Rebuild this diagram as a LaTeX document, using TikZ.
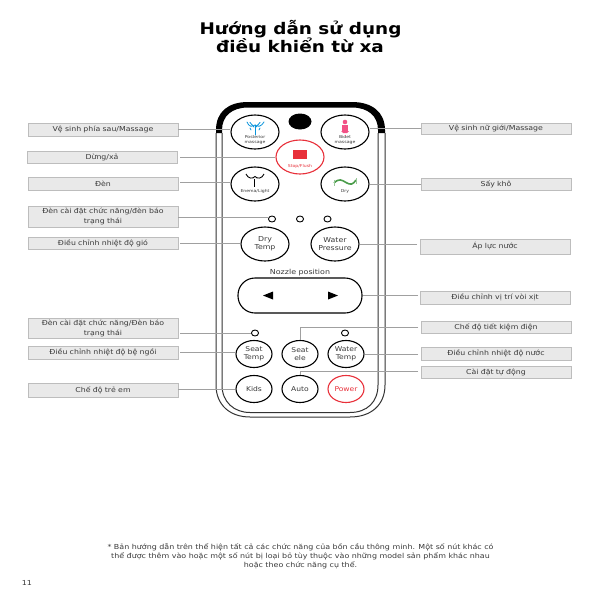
\documentclass[tikz,border=0pt]{standalone}
\usepackage{fontspec}
\setmainfont[FakeStretch=1.15]{DejaVu Sans}
\usetikzlibrary{shapes.geometric}
\definecolor{boxfill}{HTML}{E9E9E9}
\definecolor{boxline}{HTML}{BDBDBD}
\definecolor{connline}{HTML}{A0A0A0}
\definecolor{txt}{HTML}{3A3A3A}
\definecolor{redb}{HTML}{E8303A}
\tikzset{
 lab/.style={draw=boxline,fill=boxfill,line width=0.8pt,minimum width=150pt,inner sep=0pt,align=center,text=txt,font=\fontsize{6.8}{10}\selectfont,text width=146pt},
 conn/.style={draw=connline,line width=0.9pt},
 bigb/.style={ellipse,draw=black,line width=1.1pt,minimum width=48pt,minimum height=34pt,inner sep=0pt,align=center,fill=white,font=\fontsize{6.8}{8.4}\selectfont,text=txt},
 smallb/.style={ellipse,draw=black,line width=1.1pt,minimum width=36pt,minimum height=27pt,inner sep=0pt,align=center,fill=white,font=\fontsize{6.6}{7.8}\selectfont,text=txt},
 led/.style={ellipse,draw=black,line width=0.9pt,minimum width=7pt,minimum height=6pt,inner sep=0pt},
 tiny/.style={inner sep=0pt,align=center,text=txt,font=\fontsize{4}{4.4}\selectfont},
 foot/.style={inner sep=0pt,text=txt,font=\fontsize{6.9}{8}\selectfont},
}
\begin{document}
\begin{tikzpicture}[x=1pt,y=-1pt]
\useasboundingbox (0,0) rectangle (600,600);
\fill[white] (0,0) rectangle (600,600);
% title
\node[inner sep=0pt,font=\fontsize{16}{19}\bfseries\selectfont,text=black] (t1) at (300.5,29) {Hướng dẫn sử dụng};
\node[inner sep=0pt,font=\fontsize{16}{19}\bfseries\selectfont,text=black] (t2) at (300,45) {điều khiển từ xa};
% remote body
\draw[line width=1pt,draw=black!80] (216,133) -- (216,385) .. controls (216,405) and (230,417) .. (250,417) -- (350,417) .. controls (371,417) and (385,405) .. (385,385) -- (385,133);
\draw[line width=1pt,draw=black!80] (222,133) -- (222,385) .. controls (222,402) and (234,412.5) .. (250,412.5) -- (350,412.5) .. controls (367,412.5) and (378,402) .. (378,385) -- (378,133);
\fill[black] (216,133) -- (216,130) .. controls (216,112) and (228,102) .. (248,102) -- (352,102) .. controls (372,102) and (385,112) .. (385,130) -- (385,133) -- (378,133) -- (378,130) .. controls (378,116) and (368,107.5) .. (352,107.5) -- (248,107.5) .. controls (232,107.5) and (222,116) .. (222,130) -- (222,133) -- cycle;
% label boxes
\node[lab,minimum height=13pt] (L1) at (103,129.5) {Vệ sinh phía sau/Massage};
\node[lab,minimum height=12pt] (L2) at (102,157) {Dừng/xả};
\node[lab,minimum height=13pt] (L3) at (103,183.5) {Đèn};
\node[lab,minimum height=21pt] (L4) at (103,216.5) {Đèn cài đặt chức năng/đèn báo\\trạng thái};
\node[lab,minimum height=12pt] (L5) at (103,243) {Điều chỉnh nhiệt độ gió};
\node[lab,minimum height=20pt] (L6) at (103,328) {Đèn cài đặt chức năng/Đèn báo\\trạng thái};
\node[lab,minimum height=13pt] (L7) at (103,352.5) {Điều chỉnh nhiệt độ bệ ngồi};
\node[lab,minimum height=14pt] (L8) at (103,390) {Chế độ trẻ em};
\node[lab,minimum height=11pt] (R1) at (496,128.5) {Vệ sinh nữ giới/Massage};
\node[lab,minimum height=12pt] (R2) at (496,184) {Sấy khô};
\node[lab,minimum height=15pt] (R3) at (495,246.5) {Áp lực nước};
\node[lab,minimum height=13pt] (R4) at (495,297.5) {Điều chỉnh vị trí vòi xịt};
\node[lab,minimum height=12pt] (R5) at (496,327) {Chế độ tiết kiệm điện};
\node[lab,minimum height=13pt] (R6) at (496,353.5) {Điều chỉnh nhiệt độ nước};
\node[lab,minimum height=12pt] (R7) at (496,372) {Cài đặt tự động};
% buttons
\node[bigb] (bpost) at (255,132) {};
\node[bigb] (bbid) at (345,132) {};
\node[bigb,draw=redb] (bstop) at (300,157) {};
\node[bigb] (bene) at (255,184) {};
\node[bigb] (bdry) at (345,184) {};
\node[bigb] (bdt) at (265,244) {Dry\\Temp};
\node[bigb] (bwp) at (335,244) {Water\\Pressure};
\node[led] (l1) at (272,219) {};
\node[led] (l2) at (300,219) {};
\node[led] (l3) at (327.5,219) {};
\node[led] (l4) at (255,333) {};
\node[led] (l5) at (345,333) {};
\node[draw=black,line width=1.1pt,fill=white,rounded corners=17pt,minimum width=124pt,minimum height=35pt,inner sep=0pt] (noz) at (300,295.5) {};
\node[inner sep=0pt,text=txt,font=\fontsize{6.9}{8}\selectfont] (nozt) at (300,273) {Nozzle position};
\node[smallb] (st) at (254,354) {Seat\\Temp};
\node[smallb] (se) at (300,354) {Seat\\ele};
\node[smallb] (wt) at (346,354) {Water\\Temp};
\node[smallb] (ki) at (254,389) {Kids};
\node[smallb] (au) at (300,389) {Auto};
\node[smallb,draw=redb,text=redb] (po) at (346,389) {Power};
\node[ellipse,fill=black,minimum width=23pt,minimum height=16pt,inner sep=0pt] (ir) at (300,121.5) {};
% connector free ends beside the label boxes
\coordinate (a1) at (178,129);
\coordinate (a2) at (180,157);
\coordinate (a3) at (180,182);
\coordinate (a4) at (178,217);
\coordinate (a5) at (180,243);
\coordinate (a6) at (180,333);
\coordinate (a7) at (180,352);
\coordinate (a8) at (178,389);
\coordinate (b1) at (421,128);
\coordinate (b2) at (421,184);
\coordinate (b3) at (417,244);
\coordinate (b4) at (418,295);
\coordinate (b5) at (418,327);
\coordinate (b6) at (418,354);
\coordinate (b7) at (418,371);
% connectors
\draw[conn] (a1) -- (a1 -| bpost.west);
\draw[conn] (a2) -- (a2 -| bstop.west);
\draw[conn] (a3) -- (a3 -| bene.west);
\draw[conn] (a4) -- (a4 -| l1.west);
\draw[conn] (a5) -- (a5 -| bdt.west);
\draw[conn] (a6) -- (a6 -| l4.west);
\draw[conn] (a7) -- (a7 -| st.west);
\draw[conn] (a8) -- (a8 -| ki.west);
\draw[conn] (b1) -- (b1 -| bbid.east);
\draw[conn] (b2) -- (b2 -| bdry.east);
\draw[conn] (b3) -- (b3 -| bwp.east);
\draw[conn] (b4) -- (b4 -| noz.east);
\draw[conn] (b5) -| (se.north);
\draw[conn] (b6) -- (b6 -| wt.east);
\draw[conn] (b7) -| (au.north);
% button captions and icons
\node[tiny] (cpost) at (255,140) {Posterior\\massage};
\node[tiny] (cbid) at (345,140) {Bidet\\massage};
\node[tiny,text=redb] (cstop) at (300,166) {Stop/Flush};
\node[tiny] (cene) at (255,191) {Enema/Light};
\node[tiny] (cdry) at (345,191) {Dry};
\fill[redb] (293,150) rectangle (307,159);
% fountain icon
\begin{scope}[draw=cyan!80!blue,line width=0.8pt,line cap=round]
\draw (255,135) -- (255,125);
\draw (247,122) .. controls (249,127) and (252,127) .. (255,125) .. controls (258,127) and (261,127) .. (264,122);
\draw (250,122.5) -- (254,127);
\draw (260,122.5) -- (256,127);
\draw (250,128) -- (251,130);
\draw (260,128) -- (259,130);
\end{scope}
% bidet icon
\fill[magenta!60!red!70] (345,122) circle (2.3);
\fill[magenta!60!red!70] (342,125) rectangle (348,131);
\fill[magenta!60!red!70] (341,131) -- (349,131) -- (347,133) -- (343,133) -- cycle;
\fill[magenta!60!red!70] (344.5,134.5) rectangle (345.5,136);
% enema icon
\draw[draw=black,line width=0.9pt] (246,174) .. controls (248,179) and (253,179) .. (255,176.5) .. controls (257,179) and (262,179) .. (264,174);
\draw[draw=black,line width=0.9pt] (254.5,179) -- (254.5,187);
% dry icon
\draw[draw=green!45!black!70,line width=1.6pt] (334,183) .. controls (339,178) and (342,180) .. (346,182.5) .. controls (350,185) and (353,185) .. (356,180);
\draw[draw=green!45!black!40,line width=0.8pt] (334,180) -- (334,186);
\draw[draw=green!45!black!40,line width=0.8pt] (356,178) -- (356,184);
% nozzle arrows
\fill[black] (263,295.5) -- (273,291.5) -- (273,299.5) -- cycle;
\fill[black] (338,295.5) -- (328,291.5) -- (328,299.5) -- cycle;
% footnote
\node[foot] (f1) at (300.5,547) {* Bản hướng dẫn trên thể hiện tất cả các chức năng của bồn cầu thông minh. Một số nút khác có};
\node[foot] (f2) at (300.5,556) {thể được thêm vào hoặc một số nút bị loại bỏ tùy thuộc vào những model sản phẩm khác nhau};
\node[foot] (f3) at (300.5,565) {hoặc theo chức năng cụ thể.};
\node[foot] (pg) at (27,583) {11};
\end{tikzpicture}
\end{document}
